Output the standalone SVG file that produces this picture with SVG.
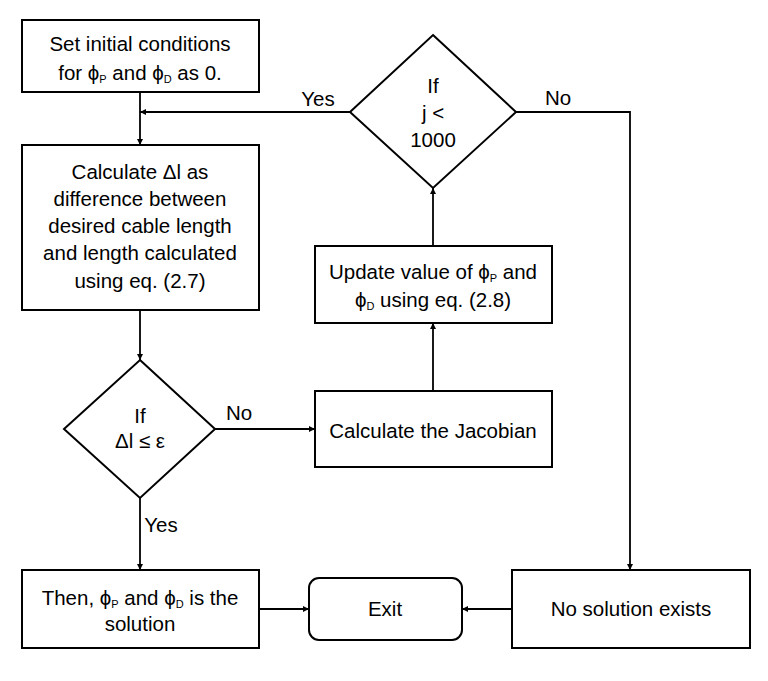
<svg xmlns="http://www.w3.org/2000/svg" width="768" height="681" viewBox="0 0 768 681">
<style>
.n{fill:#fff;stroke:#000;stroke-width:2}
.t{font-family:"Liberation Sans",Arial,sans-serif;font-size:20.5px;fill:#000;text-anchor:middle}
.s{font-size:11px}
.c{fill:none;stroke:#000;stroke-width:1.8}
</style>
<defs>
<marker id="a" viewBox="0 0 10 10" refX="10" refY="5" markerWidth="6" markerHeight="6" orient="auto" markerUnits="userSpaceOnUse">
<path d="M0,0 L10,5 L0,10 z" fill="#000"/>
</marker>
</defs>
<rect width="768" height="681" fill="#fff"/>
<g id="connectors">
<path class="c" d="M140,92 V145" marker-end="url(#a)"/>
<path class="c" d="M350,112 H140" marker-end="url(#a)"/>
<path class="c" d="M140,310 V360" marker-end="url(#a)"/>
<path class="c" d="M215,429 H315" marker-end="url(#a)"/>
<path class="c" d="M140,498 V570" marker-end="url(#a)"/>
<path class="c" d="M433,391 V323" marker-end="url(#a)"/>
<path class="c" d="M433,246 V188" marker-end="url(#a)"/>
<path class="c" d="M516,112 H630 V570" marker-end="url(#a)"/>
<path class="c" d="M259,609 H309" marker-end="url(#a)"/>
<path class="c" d="M512,609 H462" marker-end="url(#a)"/>
<text class="t" x="318" y="106">Yes</text>
<text class="t" x="558" y="105">No</text>
<text class="t" x="239" y="420">No</text>
<text class="t" x="161" y="532">Yes</text>
</g>
<g id="init">
<rect class="n" x="22" y="20" width="237" height="72"/>
<text class="t" x="140" y="51">Set initial conditions</text>
<text class="t" x="140" y="80">for ϕ<tspan class="s" dy="3">P</tspan><tspan dy="-3"> and ϕ</tspan><tspan class="s" dy="3">D</tspan><tspan dy="-3"> as 0.</tspan></text>
</g>
<g id="calc">
<rect class="n" x="22" y="145" width="237" height="165"/>
<text class="t" x="140" y="179">Calculate Δl as</text>
<text class="t" x="140" y="206">difference between</text>
<text class="t" x="140" y="233">desired cable length</text>
<text class="t" x="140" y="260">and length calculated</text>
<text class="t" x="140" y="288">using eq. (2.7)</text>
</g>
<g id="check">
<polygon class="n" points="140,360 215,429 140,498 64,429"/>
<text class="t" x="140" y="423">If</text>
<text class="t" x="140" y="448">Δl ≤ ε</text>
</g>
<g id="jacobian">
<rect class="n" x="315" y="391" width="237" height="76"/>
<text class="t" x="433" y="438">Calculate the Jacobian</text>
</g>
<g id="update">
<rect class="n" x="315" y="246" width="237" height="77"/>
<text class="t" x="433" y="279">Update value of ϕ<tspan class="s" dy="3">P</tspan><tspan dy="-3"> and</tspan></text>
<text class="t" x="433" y="307">ϕ<tspan class="s" dy="3">D</tspan><tspan dy="-3"> using eq. (2.8)</tspan></text>
</g>
<g id="loop">
<polygon class="n" points="433,35 516,112 433,188 350,112"/>
<text class="t" x="433" y="93">If</text>
<text class="t" x="433" y="120">j &lt;</text>
<text class="t" x="433" y="147">1000</text>
</g>
<g id="solution">
<rect class="n" x="22" y="570" width="237" height="78"/>
<text class="t" x="140" y="605">Then, ϕ<tspan class="s" dy="3">P</tspan><tspan dy="-3"> and ϕ</tspan><tspan class="s" dy="3">D</tspan><tspan dy="-3"> is the</tspan></text>
<text class="t" x="140" y="631">solution</text>
</g>
<g id="exit">
<rect class="n" x="309" y="578" width="153" height="62" rx="10"/>
<text class="t" x="385" y="616">Exit</text>
</g>
<g id="nosol">
<rect class="n" x="512" y="570" width="238" height="78"/>
<text class="t" x="631" y="616">No solution exists</text>
</g>
</svg>
